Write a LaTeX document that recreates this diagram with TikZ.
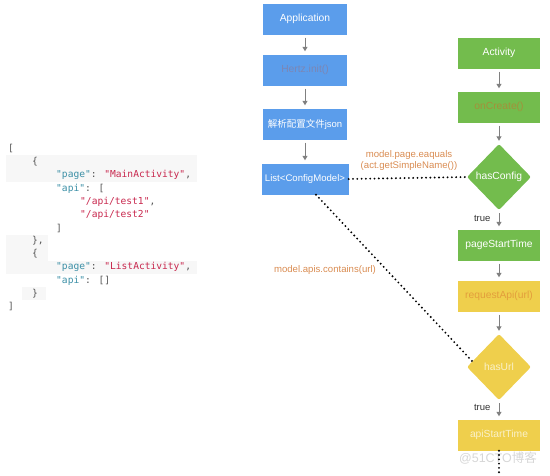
\documentclass[tikz,border=0pt]{standalone}
\usepackage{fontspec}
\setmainfont{Liberation Sans}
\newfontfamily\cjk{Noto Sans CJK SC}
\newfontfamily\codefont{DejaVu Sans Mono}
\usetikzlibrary{shapes.geometric,arrows.meta}
\definecolor{boxblue}{HTML}{5B9DEB}
\definecolor{boxgreen}{HTML}{73BC4D}
\definecolor{boxyellow}{HTML}{EFCF4C}
\definecolor{linkorange}{HTML}{D98C52}
\definecolor{arrowgray}{HTML}{808080}
\definecolor{codegray}{HTML}{555555}
\definecolor{codekey}{HTML}{3B8FA6}
\definecolor{codestr}{HTML}{C8284E}
\definecolor{codebg}{HTML}{F7F7F7}
\definecolor{inittext}{HTML}{7C86B4}
\definecolor{createtext}{HTML}{A4903A}
\definecolor{requesttext}{HTML}{E39E3C}
\newcommand{\jkey}[1]{\textcolor{codekey}{#1}}
\newcommand{\jstr}[1]{\textcolor{codestr}{#1}}
\begin{document}
\begin{tikzpicture}[x=1pt,y=-1pt,
    every node/.style={font=\fontsize{10.3}{12}\selectfont},
    blk/.style={rectangle, minimum width=84pt, minimum height=31pt, inner sep=0pt, text=white},
    decide/.style={diamond, minimum width=64pt, minimum height=66pt, inner sep=0pt,
      rounded corners=2pt, text=white},
    flow/.style={draw=arrowgray, line width=1pt, -{Triangle[length=4.5pt,width=5pt]},
      shorten <=3pt, shorten >=3pt},
    link/.style={draw=black, line width=2.1pt, dash pattern=on 0pt off 4.3pt, line cap=round},
    note/.style={text=linkorange, font=\fontsize{9.6}{11}\selectfont},
    code/.style={anchor=west, inner sep=0pt, text=codegray,
      font=\codefont\fontsize{9.6}{11}\selectfont}]
  \useasboundingbox (0,0) rectangle (550,475);
  % json shading
  \fill[codebg] (6,155) rectangle (197,182);
  \fill[codebg] (6,235) rectangle (48,261);
  \fill[codebg] (6,261) rectangle (197,274);
  \fill[codebg] (22,287) rectangle (46,300);
  % json text
  \node[code] (j1) at (8,148.5) {[};
  \node[code] (j2) at (32,162) {\{};
  \node[code] (j3) at (56,175) {\jkey{"page"}: \jstr{"MainActivity"},};
  \node[code] (j4) at (56,188.5) {\jkey{"api"}: [};
  \node[code] (j5) at (80,201.5) {\jstr{"/api/test1"},};
  \node[code] (j6) at (80,214.5) {\jstr{"/api/test2"}};
  \node[code] (j7) at (56,228) {]};
  \node[code] (j8) at (32,241) {\},};
  \node[code] (j9) at (32,254) {\{};
  \node[code] (j10) at (56,267) {\jkey{"page"}: \jstr{"ListActivity"},};
  \node[code] (j11) at (56,280.5) {\jkey{"api"}: []};
  \node[code] (j12) at (32,293.5) {\}};
  \node[code] (j13) at (8,306.5) {]};
  % app column
  \node[blk, fill=boxblue] (app) at (305,19) {Application};
  \node[blk, fill=boxblue, text=inittext] (init) at (305,70) {Hertz.init()};
  \node[blk, fill=boxblue, font=\fontsize{9.5}{11}\selectfont] (parse) at (305,124) {{\cjk 解析配置文件}json};
  \node[blk, fill=boxblue, minimum width=87pt, font=\fontsize{9.6}{11}\selectfont] (list) at (305,179) {List<ConfigModel>};
  % activity column
  \node[blk, fill=boxgreen, minimum width=82pt] (act) at (499,53) {Activity};
  \node[blk, fill=boxgreen, minimum width=82pt, text=createtext] (create) at (499,107) {onCreate()};
  \node[decide, fill=boxgreen] (hasconfig) at (499,177) {hasConfig};
  \node[blk, fill=boxgreen, minimum width=82pt] (pagestart) at (499,245) {pageStartTime};
  \node[blk, fill=boxyellow, minimum width=82pt, text=requesttext] (request) at (499,296) {requestApi(url)};
  \node[decide, fill=boxyellow, text=boxyellow!30!white] (hasurl) at (499,367) {hasUrl};
  \node[blk, fill=boxyellow, minimum width=82pt, text=boxyellow!30!white] (apistart) at (499,435) {apiStartTime};
  \coordinate (tail) at (499,475);
  % labels
  \node[note, align=center] (eqlabel) at (409,161)
    {model.page.eaquals\\(act.getSimpleName())};
  \node[note] (containslabel) at (325,270) {model.apis.contains(url)};
  \node[text=black!80, font=\fontsize{9.5}{11}\selectfont, anchor=east] (true1) at (494,218) {true};
  \node[text=black!80, font=\fontsize{9.5}{11}\selectfont, anchor=east] (true2) at (494,407) {true};
  \node[text=black!20, opacity=0.8, font=\fontsize{12.5}{14}\selectfont] (mark) at (498,458)
    {@51CTO{\cjk 博客}};
  % arrows
  \begin{scope}[flow]
    \draw (app) to (init);
    \draw (init) to (parse);
    \draw (parse) to (list);
    \draw (act) to (create);
    \draw (create) to (hasconfig);
    \draw (hasconfig) to (pagestart);
    \draw (pagestart) to (request);
    \draw (request) to (hasurl);
    \draw (hasurl) to (apistart);
  \end{scope}
  % dotted links
  \begin{scope}[link]
    \draw (list.east) to (hasconfig.west);
    \draw (list.-55) to (hasurl.168);
    \draw (apistart.south) to (tail);
  \end{scope}
\end{tikzpicture}
\end{document}
